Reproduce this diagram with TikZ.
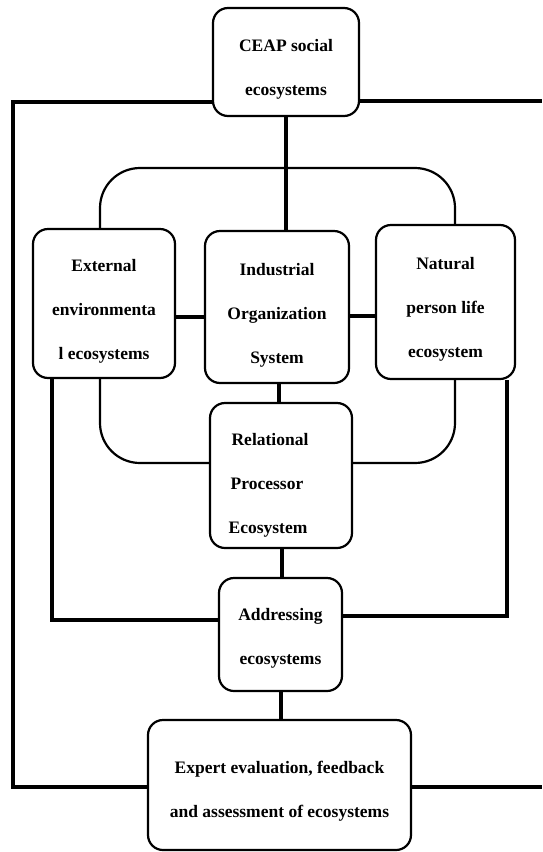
\documentclass[tikz,border=0pt]{standalone}
\usepackage{fontspec}
\setmainfont{Liberation Serif}
\newcommand{\tstr}[1]{\rule{0pt}{#1}}
\begin{document}
\begin{tikzpicture}[x=1pt,y=-1pt,
  box/.style={draw, line width=2.2pt, rounded corners=15pt, fill=white, align=center,
    font=\fontsize{17.5}{44}\selectfont\bfseries, inner sep=0pt},
  conn/.style={line width=3.2pt},
  loop/.style={line width=2.2pt, rounded corners=40pt}]
\useasboundingbox (0,0) rectangle (542,852);
\node[box, minimum width=146pt, minimum height=108pt] (ceap) at (286,62) {\tstr{26pt}CEAP social\\ecosystems};
\node[box, minimum width=142pt, minimum height=149pt] (ext) at (104,303.5) {\tstr{28pt}External\\environmenta\\l ecosystems};
\node[box, minimum width=144pt, minimum height=152pt] (ind) at (277,307) {\tstr{28pt}Industrial\\Organization\\System};
\node[box, minimum width=139pt, minimum height=154pt] (nat) at (445.5,302) {\tstr{26pt}Natural\\person life\\ecosystem};
\node[box, minimum width=142pt, minimum height=145pt] (rel) at (281,475.5) {\hspace*{-22pt}\tstr{32pt}Relational\\\hspace*{-28pt}Processor\\\hspace*{-26pt}Ecosystem};
\node[box, minimum width=123pt, minimum height=113pt] (addr) at (280.5,634.5) {\tstr{20pt}Addressing\\ecosystems};
\node[box, minimum width=263pt, minimum height=130pt] (exp) at (279.5,785) {\tstr{24pt}Expert evaluation, feedback\\and assessment of ecosystems};
% junction coordinates
\coordinate (fl) at (13,102);
\coordinate (fb) at (13,787);
\coordinate (rt) at (542,101);
\coordinate (rb) at (542,787);
\coordinate (tl) at (100,168);
\coordinate (tr) at (455,168);
\coordinate (bl) at (100,463);
\coordinate (br) at (455,463);
\coordinate (ll) at (52,620);
\coordinate (rl) at (507,616);
\coordinate (m1) at (0,317);
\coordinate (m2) at (0,316);
% outer frame
\draw[conn] (ceap.west |- fl) -- (fl) -- (fb) -- (exp.west |- fb);
\draw[conn] (ceap.east |- rt) -- (rt);
\draw[conn] (exp.east |- rb) -- (rb);
% central spine
\draw[conn] (ceap.south) -- (ceap.south |- ind.north);
\draw[conn] (ind.south -| 279,0) -- (rel.north -| 279,0);
\draw[conn] (rel.south -| 282,0) -- (addr.north -| 282,0);
\draw[conn] (addr.south -| 281,0) -- (exp.north -| 281,0);
% side links
\draw[conn] (ext.east |- m1) -- (ind.west |- m1);
\draw[conn] (ind.east |- m2) -- (nat.west |- m2);
% rounded loop
\draw[loop] (ext.north -| tl) -- (tl) -- (tr) -- (nat.north -| tr);
\draw[loop] (ext.south -| bl) -- (bl) -- (rel.west |- bl);
\draw[loop] (nat.south -| br) -- (br) -- (rel.east |- br);
% addressing loop
\draw[conn] (ext.south -| ll) -- (ll) -- (addr.west |- ll);
\draw[conn] (nat.south -| rl) -- (rl) -- (addr.east |- rl);
\end{tikzpicture}
\end{document}
